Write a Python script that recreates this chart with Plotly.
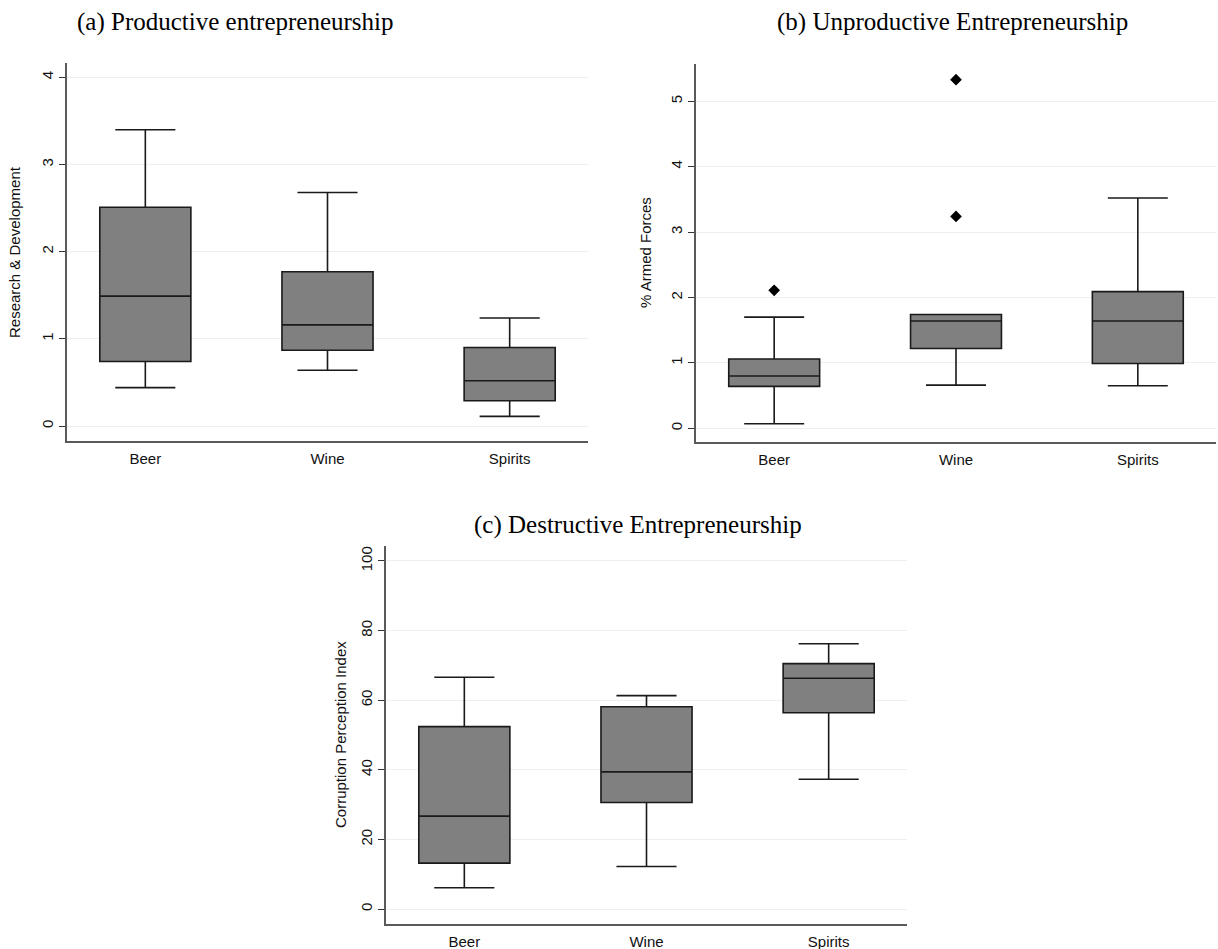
import plotly.graph_objects as go

categories = ["Beer", "Wine", "Spirits"]

# (a) Research & Development
a_lower = [0.44, 0.64, 0.11]
a_q1 = [0.74, 0.87, 0.29]
a_median = [1.49, 1.16, 0.52]
a_q3 = [2.51, 1.77, 0.90]
a_upper = [3.40, 2.68, 1.24]

# (b) % Armed Forces
b_lower = [0.07, 0.66, 0.65]
b_q1 = [0.64, 1.22, 0.99]
b_median = [0.80, 1.64, 1.64]
b_q3 = [1.06, 1.74, 2.09]
b_upper = [1.70, 1.74, 3.52]
b_out_x = ["Beer", "Wine", "Wine"]
b_out_y = [2.11, 5.33, 3.24]

# (c) Corruption Perception Index
c_lower = [6.1, 12.2, 37.3]
c_q1 = [13.2, 30.6, 56.4]
c_median = [26.7, 39.4, 66.3]
c_q3 = [52.4, 58.1, 70.5]
c_upper = [66.6, 61.3, 76.2]

W, H = 1218, 949
FILL = "#808080"
LINE = "#1a1a1a"
GRID = "#ebf0f1"
AXIS = "#5a5a5a"

fig = go.Figure()

def add_box(lower, q1, med, q3, upper, xa, ya):
    fig.add_trace(go.Box(
        x=categories, lowerfence=lower, q1=q1, median=med, q3=q3, upperfence=upper,
        width=0.5, whiskerwidth=0.66, fillcolor=FILL,
        line=dict(color=LINE, width=1.6), boxpoints=False,
        xaxis=xa, yaxis=ya, showlegend=False, hoverinfo="skip"))

add_box(a_lower, a_q1, a_median, a_q3, a_upper, "x", "y")
add_box(b_lower, b_q1, b_median, b_q3, b_upper, "x2", "y2")
fig.add_trace(go.Scatter(x=b_out_x, y=b_out_y, mode="markers",
                         marker=dict(symbol="diamond", size=9, color="black"),
                         xaxis="x2", yaxis="y2", showlegend=False))
add_box(c_lower, c_q1, c_median, c_q3, c_upper, "x3", "y3")

def px_x(a, b):
    return [a / W, b / W]

def px_y(top, bottom):
    return [1 - bottom / H, 1 - top / H]

xcommon = dict(type="category", categoryorder="array", categoryarray=categories,
               range=[-0.43, 2.43], showline=True, linecolor=AXIS, linewidth=1.5,
               ticks="outside", ticklen=3, tickcolor="rgba(0,0,0,0)",
               showgrid=False, zeroline=False,
               tickfont=dict(family="Liberation Sans, Arial", size=15, color="#111"))
ycommon = dict(showline=True, linecolor=AXIS, linewidth=1.5, ticks="outside",
               ticklen=6, tickwidth=1.2, tickcolor="#333", tickangle=-90,
               showgrid=True, gridcolor=GRID, gridwidth=1.2, zeroline=False,
               tickfont=dict(family="Liberation Sans, Arial", size=15, color="#111"))

fig.update_layout(
    width=W, height=H, margin=dict(l=0, r=0, t=0, b=0),
    paper_bgcolor="white", plot_bgcolor="white",
    xaxis=dict(domain=px_x(67, 588), anchor="y", **xcommon),
    yaxis=dict(domain=px_y(63, 441), anchor="x", range=[-0.172, 4.165],
               tickvals=[0, 1, 2, 3, 4], **ycommon),
    xaxis2=dict(domain=px_x(696, 1216), anchor="y2", **xcommon),
    yaxis2=dict(domain=px_y(64, 442), anchor="x2", range=[-0.21, 5.57],
                tickvals=[0, 1, 2, 3, 4, 5], **ycommon),
    xaxis3=dict(domain=px_x(386, 907), anchor="y3", **xcommon),
    yaxis3=dict(domain=px_y(546, 924), anchor="x3", range=[-4.3, 104.3],
                tickvals=[0, 20, 40, 60, 80, 100], **ycommon),
)

def title(text, x, y, anchor):
    fig.add_annotation(text=text, x=x / W, y=1 - y / H, xref="paper", yref="paper",
                       xanchor=anchor, yanchor="middle", showarrow=False,
                       font=dict(family="Liberation Serif, Times New Roman", size=25, color="black"))

title("(a) Productive entrepreneurship", 75, 22, "left")
title("(b) Unproductive Entrepreneurship", 952, 22, "center")
title("(c) Destructive Entrepreneurship", 638, 525, "center")

def ytitle(text, x, y):
    fig.add_annotation(text=text, x=x / W, y=1 - y / H, xref="paper", yref="paper",
                       xanchor="center", yanchor="middle", showarrow=False, textangle=-90,
                       font=dict(family="Liberation Sans, Arial", size=15, color="#111"))

ytitle("Research &amp; Development", 15, 252)
ytitle("% Armed Forces", 645, 253)
ytitle("Corruption Perception Index", 340, 735)

fig.write_html("out.html", config={"displayModeBar": False},
               post_script="document.body.style.margin='0';document.body.style.overflow='hidden';")
